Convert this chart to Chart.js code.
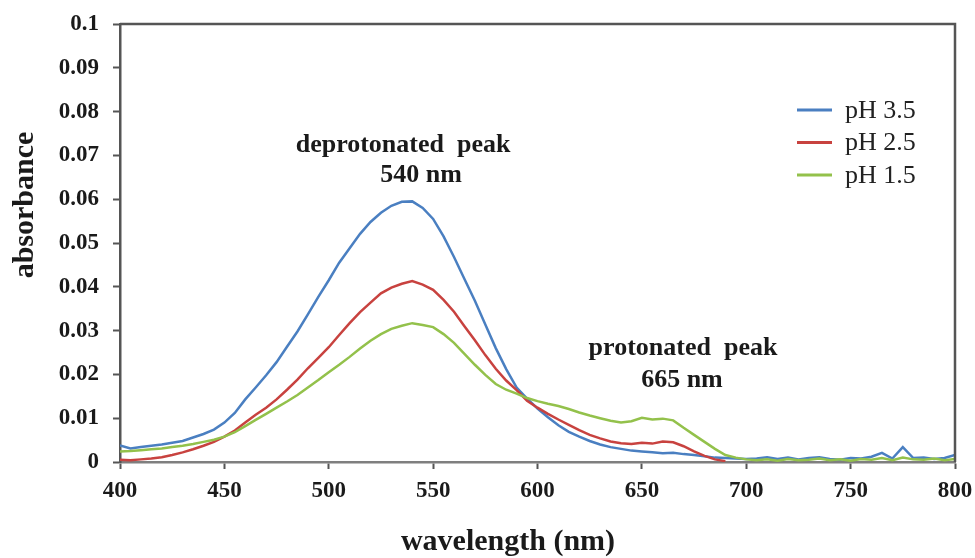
<!DOCTYPE html>
<html>
<head>
<meta charset="utf-8">
<script src="https://cdn.jsdelivr.net/npm/chart.js@4.4.1/dist/chart.umd.min.js"></script>
<style>
  html, body { margin: 0; padding: 0; background: #fff; }
  #wrap { width: 975px; height: 558px; }
</style>
</head>
<body>
<div id="wrap"><canvas id="specChart" width="975" height="558"></canvas></div>
<script>
// wavelength (nm), 5 nm steps
const wavelengths = [
  400, 405, 410, 415, 420, 425, 430, 435, 440, 445,
  450, 455, 460, 465, 470, 475, 480, 485, 490, 495,
  500, 505, 510, 515, 520, 525, 530, 535, 540, 545,
  550, 555, 560, 565, 570, 575, 580, 585, 590, 595,
  600, 605, 610, 615, 620, 625, 630, 635, 640, 645,
  650, 655, 660, 665, 670, 675, 680, 685, 690, 695,
  700, 705, 710, 715, 720, 725, 730, 735, 740, 745,
  750, 755, 760, 765, 770, 775, 780, 785, 790, 795,
  800,
];

// absorbance, pH 3.5
const ph35 = [
  0.0038, 0.0031, 0.0034, 0.0037, 0.0040, 0.0044, 0.0048, 0.0056, 0.0064, 0.0074,
  0.0090, 0.0112, 0.0143, 0.0170, 0.0198, 0.0228, 0.0263, 0.0298, 0.0337, 0.0377,
  0.0415, 0.0455, 0.0488, 0.0521, 0.0548, 0.0569, 0.0585, 0.0594, 0.0595, 0.0580,
  0.0555, 0.0515, 0.0468, 0.0418, 0.0368, 0.0314, 0.0260, 0.0212, 0.0170, 0.0145,
  0.0122, 0.0102, 0.0084, 0.0069, 0.0058, 0.0048, 0.0040, 0.0034, 0.0030, 0.0026,
  0.0024, 0.0022, 0.0020, 0.0021, 0.0018, 0.0016, 0.0013, 0.0010, 0.0009, 0.0008,
  0.0007, 0.0008, 0.0011, 0.0007, 0.0010, 0.0006, 0.0009, 0.0011, 0.0007, 0.0005,
  0.0009, 0.0008, 0.0012, 0.0021, 0.0008, 0.0034, 0.0009, 0.0010, 0.0007, 0.0009,
  0.0016,
];

// absorbance, pH 2.5 (trace ends near 690 nm)
const ph25 = [
  0.0005, 0.0004, 0.0006, 0.0008, 0.0011, 0.0016, 0.0022, 0.0029, 0.0037, 0.0046,
  0.0058, 0.0072, 0.0090, 0.0108, 0.0124, 0.0143, 0.0165, 0.0188, 0.0214, 0.0238,
  0.0262, 0.0290, 0.0317, 0.0342, 0.0364, 0.0385, 0.0398, 0.0407, 0.0413, 0.0405,
  0.0393, 0.0370, 0.0343, 0.0310, 0.0278, 0.0244, 0.0213, 0.0186, 0.0164, 0.0140,
  0.0124, 0.0110, 0.0097, 0.0085, 0.0073, 0.0062, 0.0054, 0.0047, 0.0043, 0.0041,
  0.0044, 0.0042, 0.0047, 0.0045, 0.0036, 0.0024, 0.0014, 0.0006, 0.0002, null,
  null, null, null, null, null, null, null, null, null, null,
  null, null, null, null, null, null, null, null, null, null,
  null,
];

// absorbance, pH 1.5
const ph15 = [
  0.0024, 0.0025, 0.0027, 0.0029, 0.0031, 0.0034, 0.0037, 0.0041, 0.0046, 0.0051,
  0.0058, 0.0068, 0.0082, 0.0096, 0.0110, 0.0124, 0.0138, 0.0153, 0.0170, 0.0187,
  0.0205, 0.0222, 0.0240, 0.0259, 0.0277, 0.0292, 0.0304, 0.0311, 0.0317, 0.0313,
  0.0308, 0.0292, 0.0272, 0.0247, 0.0222, 0.0199, 0.0178, 0.0165, 0.0156, 0.0146,
  0.0139, 0.0133, 0.0128, 0.0121, 0.0113, 0.0106, 0.0100, 0.0094, 0.0090, 0.0093,
  0.0101, 0.0097, 0.0099, 0.0095, 0.0078, 0.0062, 0.0046, 0.0030, 0.0016, 0.0010,
  0.0006, 0.0004, 0.0006, 0.0003, 0.0007, 0.0004, 0.0005, 0.0008, 0.0004, 0.0006,
  0.0003, 0.0007, 0.0005, 0.0009, 0.0004, 0.0010, 0.0006, 0.0005, 0.0008, 0.0004,
  0.0007,
];

const yTickLabels = ['0', '0.01', '0.02', '0.03', '0.04', '0.05', '0.06', '0.07', '0.08', '0.09', '0.1'];

const seriesNames = ['pH 3.5', 'pH 2.5', 'pH 1.5'];
const seriesColors = ['#4a7fc1', '#c8423f', '#93c14b'];

const toPoints = (vals) => wavelengths.map((w, i) => ({ x: w, y: vals[i] }));

const serif = "'Liberation Serif', 'Times New Roman', serif";

// frame, axis titles, peak notes and legend drawn on the canvas
const extrasPlugin = {
  id: 'extras',
  afterDraw(chart) {
    const { ctx, chartArea: a, scales } = chart;
    ctx.save();

    // top + right sides of the box
    ctx.strokeStyle = '#555';
    ctx.lineWidth = 2.5;
    ctx.beginPath();
    ctx.moveTo(a.left, a.top);
    ctx.lineTo(a.right, a.top);
    ctx.lineTo(a.right, a.bottom);
    ctx.stroke();

    ctx.fillStyle = '#1a1a1a';
    ctx.textAlign = 'center';
    ctx.textBaseline = 'alphabetic';

    // axis titles
    ctx.font = 'bold 30px ' + serif;
    ctx.fillText('wavelength (nm)', 508, 550);
    ctx.save();
    ctx.translate(33, 205);
    ctx.rotate(-Math.PI / 2);
    ctx.fillText('absorbance', 0, 0);
    ctx.restore();

    // peak notes
    const px = (v) => scales.x.getPixelForValue(v);
    const py = (v) => scales.y.getPixelForValue(v);
    ctx.font = 'bold 26px ' + serif;
    ctx.fillText('deprotonated  peak', px(535.6), py(0.0708));
    ctx.fillText('540 nm', px(544.2), py(0.0639));
    ctx.fillText('protonated  peak', px(669.7), py(0.0244));
    ctx.fillText('665 nm', px(669.2), py(0.0171));

    // legend
    ctx.font = '26px ' + serif;
    ctx.textAlign = 'left';
    ctx.textBaseline = 'middle';
    chart.data.datasets.forEach((ds, i) => {
      const y = 110 + i * 32.5;
      ctx.strokeStyle = ds.borderColor;
      ctx.lineWidth = 3;
      ctx.beginPath();
      ctx.moveTo(797, y);
      ctx.lineTo(832, y);
      ctx.stroke();
      ctx.fillStyle = '#222';
      ctx.fillText(ds.label, 845, y + 1);
    });

    ctx.restore();
  },
};

const bgPlugin = {
  id: 'bg',
  beforeDraw(chart) {
    const { ctx } = chart;
    ctx.save();
    ctx.fillStyle = '#fff';
    ctx.fillRect(0, 0, chart.width, chart.height);
    ctx.restore();
  },
};

const ctx = document.getElementById('specChart').getContext('2d');
new Chart(ctx, {
  type: 'line',
  data: {
    datasets: [
      { label: seriesNames[0], data: toPoints(ph35), borderColor: seriesColors[0], order: 2 },
      { label: seriesNames[1], data: toPoints(ph25), borderColor: seriesColors[1], order: 1 },
      { label: seriesNames[2], data: toPoints(ph15), borderColor: seriesColors[2], order: 0 },
    ],
  },
  options: {
    responsive: false,
    animation: false,
    layout: { padding: { top: 24, right: 20, left: 0, bottom: 0 } },
    elements: {
      point: { radius: 0 },
      line: { borderWidth: 2.5, tension: 0, spanGaps: false },
    },
    plugins: {
      legend: { display: false },
      tooltip: { enabled: false },
    },
    scales: {
      x: {
        type: 'linear',
        min: 400,
        max: 800,
        afterFit: (s) => { s.height = 96; s.paddingLeft = 0; s.paddingRight = 0; },
        ticks: {
          stepSize: 50,
          padding: 8,
          color: '#1a1a1a',
          font: { family: serif, size: 23, weight: 'bold' },
        },
        grid: { drawOnChartArea: false, tickLength: 7, tickWidth: 2, tickColor: '#555' },
        border: { display: true, color: '#7f7f7f', width: 2.5 },
      },
      y: {
        min: 0,
        max: 0.1,
        afterFit: (s) => { s.width = 120; s.paddingTop = 0; s.paddingBottom = 0; },
        ticks: {
          stepSize: 0.01,
          padding: 14,
          color: '#1a1a1a',
          font: { family: serif, size: 23, weight: 'bold' },
          callback: (v, i) => yTickLabels[i],
        },
        grid: { drawOnChartArea: false, tickLength: 7, tickWidth: 2, tickColor: '#555' },
        border: { display: true, color: '#555', width: 2.5 },
      },
    },
  },
  plugins: [bgPlugin, extrasPlugin],
});
</script>
</body>
</html>
